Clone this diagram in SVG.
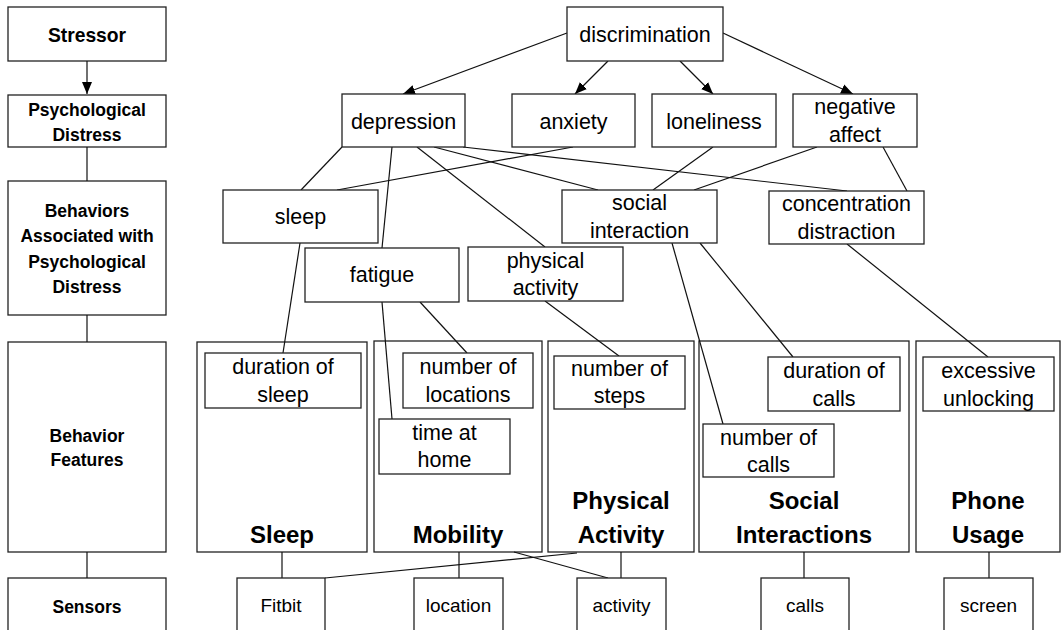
<svg xmlns="http://www.w3.org/2000/svg" width="1062" height="630" viewBox="0 0 1062 630">
<style>
rect{fill:#fff;stroke:#222;stroke-width:1.3}
.c line{stroke:#111;stroke-width:1.2}
text{font-family:"Liberation Sans",Arial,sans-serif;fill:#000;text-anchor:middle}
.b{font-weight:bold;font-size:17.5px}
.t{font-size:21.5px}
.big{font-weight:bold;font-size:24px}
.s{font-size:19px}
</style>
<defs>
<marker id="ah" viewBox="0 0 12 10" markerWidth="12" markerHeight="10" refX="12" refY="5" orient="auto" markerUnits="userSpaceOnUse">
<path d="M0,0 L12,5 L0,10 z" fill="#000"/>
</marker>
</defs>
<rect width="1062" height="630" style="fill:#fff;stroke:none"/>

<!-- left column -->
<g id="stressor"><rect x="8" y="7" width="158" height="54"/><text class="b" x="87" y="42" style="font-size:19.3px">Stressor</text></g>
<g id="psych-distress"><rect x="8" y="95" width="158" height="52"/><text class="b" x="87" y="116">Psychological</text><text class="b" x="87" y="141">Distress</text></g>
<g id="behaviors"><rect x="8" y="181" width="158" height="134"/><text class="b" x="87" y="217">Behaviors</text><text class="b" x="87" y="242">Associated with</text><text class="b" x="87" y="268">Psychological</text><text class="b" x="87" y="293">Distress</text></g>
<g id="behavior-features"><rect x="8" y="342" width="158" height="210"/><text class="b" x="87" y="442">Behavior</text><text class="b" x="87" y="466">Features</text></g>
<g id="sensors"><rect x="8" y="578" width="158" height="62"/><text class="b" x="87" y="613">Sensors</text></g>

<!-- category boxes -->
<g id="cat-sleep"><rect x="197" y="342" width="170" height="210"/><text class="big" x="282" y="543">Sleep</text></g>
<g id="cat-mobility"><rect x="374" y="341" width="168" height="211"/><text class="big" x="458" y="543">Mobility</text></g>
<g id="cat-physical"><rect x="548" y="341" width="146" height="211"/><text class="big" x="621" y="509">Physical</text><text class="big" x="621" y="543">Activity</text></g>
<g id="cat-social"><rect x="699" y="341" width="210" height="211"/><text class="big" x="804" y="509">Social</text><text class="big" x="804" y="543">Interactions</text></g>
<g id="cat-phone"><rect x="916" y="341" width="144" height="211"/><text class="big" x="988" y="509">Phone</text><text class="big" x="988" y="543">Usage</text></g>

<!-- connectors -->
<g id="connectors" class="c">
<line x1="87" y1="61" x2="87" y2="94" marker-end="url(#ah)"/>
<line x1="87" y1="147" x2="87" y2="181"/>
<line x1="87" y1="315" x2="87" y2="342"/>
<line x1="87" y1="552" x2="87" y2="578"/>

<line x1="567" y1="33" x2="403" y2="94" marker-end="url(#ah)"/>
<line x1="608" y1="61" x2="575" y2="94" marker-end="url(#ah)"/>
<line x1="680" y1="61" x2="713" y2="94" marker-end="url(#ah)"/>
<line x1="723" y1="33" x2="853" y2="94" marker-end="url(#ah)"/>

<line x1="342" y1="147" x2="301" y2="190"/>
<line x1="573" y1="147" x2="337" y2="190"/>
<line x1="392" y1="147" x2="382" y2="248"/>
<line x1="417" y1="147" x2="545" y2="247"/>
<line x1="434" y1="147" x2="598" y2="190"/>
<line x1="463" y1="147" x2="847" y2="191"/>
<line x1="713" y1="147" x2="653" y2="190"/>
<line x1="817" y1="147" x2="694" y2="190"/>
<line x1="883" y1="147" x2="907" y2="191"/>

<line x1="300" y1="243" x2="283" y2="353"/>
<line x1="382" y1="302" x2="392" y2="419"/>
<line x1="420" y1="302" x2="467" y2="353"/>
<line x1="545" y1="301" x2="619" y2="356"/>
<line x1="672" y1="243" x2="723" y2="424"/>
<line x1="700" y1="243" x2="793" y2="357"/>
<line x1="847" y1="244" x2="988" y2="357"/>

<line x1="282" y1="552" x2="282" y2="578"/>
<line x1="459" y1="552" x2="459" y2="578"/>
<line x1="621" y1="552" x2="621" y2="578"/>
<line x1="577" y1="553" x2="325" y2="578"/>
<line x1="514" y1="552" x2="608" y2="578"/>
<line x1="804" y1="552" x2="804" y2="578"/>
<line x1="989" y1="552" x2="989" y2="578"/>
</g>

<!-- top nodes -->
<g id="discrimination"><rect x="567" y="7" width="156" height="54"/><text class="t" x="645" y="42">discrimination</text></g>
<g id="depression"><rect x="342" y="94" width="123" height="53"/><text class="t" x="403.5" y="129">depression</text></g>
<g id="anxiety"><rect x="512" y="94" width="123" height="53"/><text class="t" x="573.5" y="129">anxiety</text></g>
<g id="loneliness"><rect x="652" y="94" width="124" height="53"/><text class="t" x="714" y="129">loneliness</text></g>
<g id="negative-affect"><rect x="793" y="94" width="124" height="53"/><text class="t" x="855" y="114">negative</text><text class="t" x="855" y="142">affect</text></g>

<g id="sleep"><rect x="223" y="190" width="155" height="53"/><text class="t" x="300.5" y="224">sleep</text></g>
<g id="social-interaction"><rect x="562" y="190" width="155" height="53"/><text class="t" x="639.5" y="210">social</text><text class="t" x="639.5" y="238">interaction</text></g>
<g id="concentration-distraction"><rect x="769" y="191" width="155" height="53"/><text class="t" x="846.5" y="211">concentration</text><text class="t" x="846.5" y="239">distraction</text></g>
<g id="fatigue"><rect x="305" y="248" width="154" height="54"/><text class="t" x="382" y="282">fatigue</text></g>
<g id="physical-activity"><rect x="468" y="247" width="155" height="54"/><text class="t" x="545.5" y="268">physical</text><text class="t" x="545.5" y="295">activity</text></g>

<!-- feature nodes -->
<g id="duration-of-sleep"><rect x="205" y="353" width="156" height="55"/><text class="t" x="283" y="374">duration of</text><text class="t" x="283" y="402">sleep</text></g>
<g id="number-of-locations"><rect x="403" y="353" width="130" height="55"/><text class="t" x="468" y="374">number of</text><text class="t" x="468" y="402">locations</text></g>
<g id="time-at-home"><rect x="379" y="419" width="131" height="55"/><text class="t" x="444.5" y="440">time at</text><text class="t" x="444.5" y="467">home</text></g>
<g id="number-of-steps"><rect x="554" y="356" width="131" height="53"/><text class="t" x="619.5" y="376">number of</text><text class="t" x="619.5" y="403">steps</text></g>
<g id="duration-of-calls"><rect x="768" y="357" width="132" height="54"/><text class="t" x="834" y="378">duration of</text><text class="t" x="834" y="406">calls</text></g>
<g id="number-of-calls"><rect x="703" y="424" width="131" height="53"/><text class="t" x="768.5" y="445">number of</text><text class="t" x="768.5" y="472">calls</text></g>
<g id="excessive-unlocking"><rect x="923" y="357" width="131" height="54"/><text class="t" x="988.5" y="378">excessive</text><text class="t" x="988.5" y="406">unlocking</text></g>

<!-- sensors -->
<g id="fitbit"><rect x="237" y="578" width="88" height="62"/><text class="s" x="281" y="612">Fitbit</text></g>
<g id="location"><rect x="414" y="578" width="89" height="62"/><text class="s" x="458.5" y="612">location</text></g>
<g id="activity"><rect x="577" y="578" width="89" height="62"/><text class="s" x="621.5" y="612">activity</text></g>
<g id="calls"><rect x="761" y="578" width="88" height="62"/><text class="s" x="805" y="612">calls</text></g>
<g id="screen"><rect x="944" y="578" width="89" height="62"/><text class="s" x="988.5" y="612">screen</text></g>
</svg>
